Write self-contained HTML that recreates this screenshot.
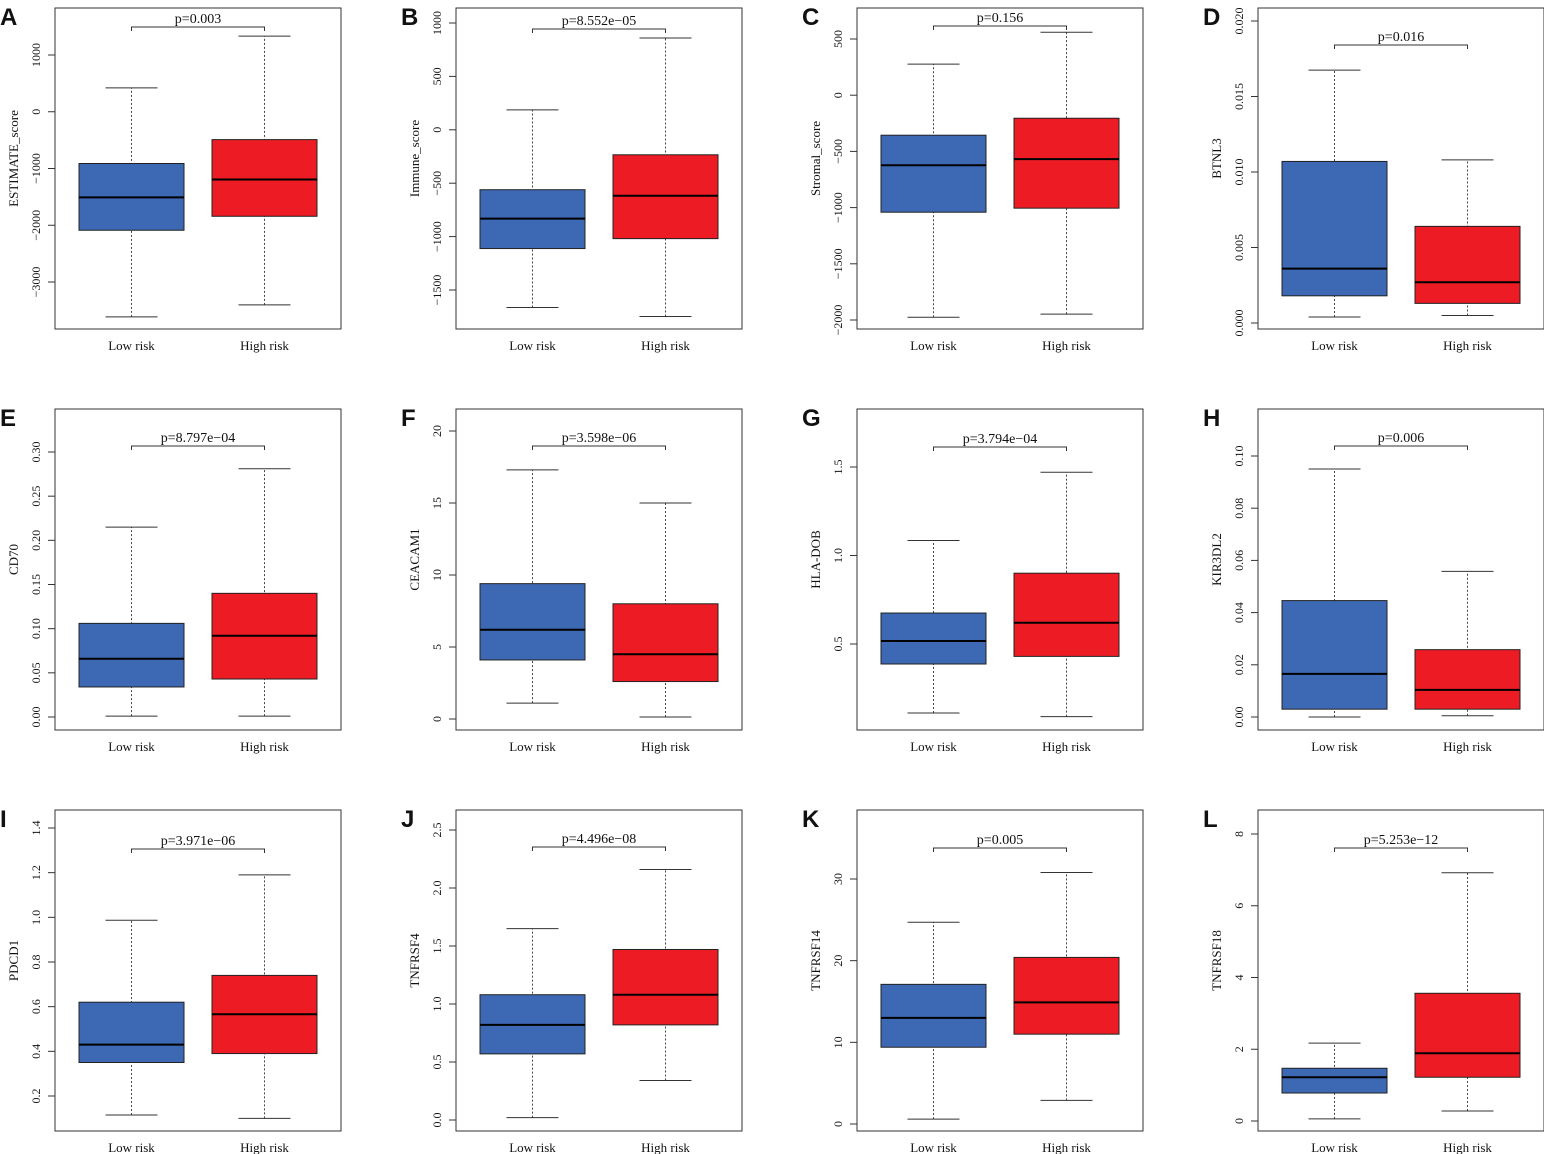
<!DOCTYPE html>
<html><head><meta charset="utf-8">
<style>
html,body{margin:0;padding:0;background:#fff;}
svg{display:block;}
text{font-family:"Liberation Serif",serif;fill:#111;}
.lbl{font-family:"Liberation Sans",sans-serif;font-weight:bold;font-size:24px;}
</style></head>
<body>
<svg id="fig" width="1544" height="1154" viewBox="0 0 1544 1154" xmlns="http://www.w3.org/2000/svg"></svg>
<script>
const letters=["A","B","C","D","E","F","G","H","I","J","K","L"];
const yTitles=["ESTIMATE_score","Immune_score","Stromal_score","BTNL3","CD70","CEACAM1","HLA-DOB","KIR3DL2","PDCD1","TNFRSF4","TNFRSF14","TNFRSF18"];
const pValues=["p=0.003","p=8.552e\u221205","p=0.156","p=0.016","p=8.797e\u221204","p=3.598e\u221206","p=3.794e\u221204","p=0.006","p=3.971e\u221206","p=4.496e\u221208","p=0.005","p=5.253e\u221212"];
const groups=["Low risk","High risk"];
// [min, q1, median, q3, max]
const lowStats=[
[-3614,-2088,-1509,-912,421],
[-1664,-1112,-832,-561,187],
[-1975,-1041,-623,-356,276],
[0.0004,0.0018,0.0036,0.0107,0.01675],
[0.001,0.034,0.066,0.106,0.215],
[1.1,4.1,6.2,9.4,17.3],
[0.11,0.387,0.517,0.675,1.085],
[0.0,0.003,0.0165,0.0446,0.095],
[0.115,0.35,0.43,0.62,0.987],
[0.02,0.57,0.82,1.08,1.65],
[0.6,9.4,13.0,17.1,24.7],
[0.06,0.78,1.22,1.47,2.17]];
const highStats=[
[-3404,-1842,-1193,-491,1333],
[-1748,-1019,-617,-234,860],
[-1948,-1005,-569,-205,560],
[0.0005,0.0013,0.0027,0.0064,0.0108],
[0.001,0.043,0.092,0.140,0.281],
[0.14,2.6,4.5,8.0,15.0],
[0.09,0.43,0.62,0.90,1.47],
[0.0005,0.003,0.0104,0.0258,0.0558],
[0.10,0.39,0.566,0.74,1.19],
[0.34,0.82,1.08,1.47,2.16],
[2.9,11.0,14.9,20.4,30.8],
[0.28,1.22,1.89,3.56,6.92]];
const yTicks=[
[-3000,-2000,-1000,0,1000],
[-1500,-1000,-500,0,500,1000],
[-2000,-1500,-1000,-500,0,500],
[0.000,0.005,0.010,0.015,0.020],
[0.00,0.05,0.10,0.15,0.20,0.25,0.30],
[0,5,10,15,20],
[0.5,1.0,1.5],
[0.00,0.02,0.04,0.06,0.08,0.10],
[0.2,0.4,0.6,0.8,1.0,1.2,1.4],
[0.0,0.5,1.0,1.5,2.0,2.5],
[0,10,20,30],
[0,2,4,6,8]];
const tickLabels=[
["\u22123000","\u22122000","\u22121000","0","1000"],
["\u22121500","\u22121000","\u2212500","0","500","1000"],
["\u22122000","\u22121500","\u22121000","\u2212500","0","500"],
["0.000","0.005","0.010","0.015","0.020"],
["0.00","0.05","0.10","0.15","0.20","0.25","0.30"],
["0","5","10","15","20"],
["0.5","1.0","1.5"],
["0.00","0.02","0.04","0.06","0.08","0.10"],
["0.2","0.4","0.6","0.8","1.0","1.2","1.4"],
["0.0","0.5","1.0","1.5","2.0","2.5"],
["0","10","20","30"],
["0","2","4","6","8"]];
// pixel anchors (layout): y of first and last tick
const tickPix=[[282,55],[290,23],[320,39],[323,21],[717,452],[719,431],[644,467],[717,456],[1096,828],[1120,830],[1124,879],[1121,834]];
const bracketY=[27,29,26,45,446,446,447,446,849,847,848,848];
const colLeft=[55,456,857,1258];
const rowTop=[8,409,810];
const BW=286,BH=321;
const NS="http://www.w3.org/2000/svg";
const svg=document.getElementById("fig");
function mk(tag,attrs,parent,txt){const e=document.createElementNS(NS,tag);for(const k in attrs)e.setAttribute(k,attrs[k]);if(txt!==undefined)e.textContent=txt;(parent||svg).appendChild(e);return e;}
for(let i=0;i<12;i++){
  const bx=colLeft[i%4], by=rowTop[Math.floor(i/4)];
  const g=mk("g",{});
  
  
  const t=yTicks[i], tp=tickPix[i];
  const v0=t[0], v1=t[t.length-1];
  const y=v=>tp[0]+(v-v0)*(tp[1]-tp[0])/(v1-v0);
  const L=mk("text",{x:bx-55,y:by+17,class:"lbl"},g,letters[i]);
  
  
  const frame=mk("rect",{x:bx,y:by,width:BW,height:BH,fill:"none",stroke:"#333","stroke-width":1},g);
  
  
  const ax=mk("g",{},g);
  
  
  mk("line",{x1:bx,x2:bx,y1:y(v0),y2:y(v1),stroke:"#333"},ax);
  t.forEach((v,k)=>{
    const yy=y(v);
    mk("line",{x1:bx-7,x2:bx,y1:yy,y2:yy,stroke:"#333"},ax);
    mk("text",{x:bx-15,y:yy,"font-size":12,"text-anchor":"middle",transform:`rotate(-90 ${bx-15} ${yy})`},ax,tickLabels[i][k]);
  });
  const cy=by+BH/2-10;
  const yt=mk("text",{x:bx-37,y:cy,"font-size":13,"text-anchor":"middle",transform:`rotate(-90 ${bx-37} ${cy})`},g,yTitles[i]);
  
  
  [lowStats[i],highStats[i]].forEach((s,gi)=>{
    const x0=bx+(gi===0?24:157), w=105, xc=x0+w/2;
    const bg=mk("g",{},g);
    
    
    mk("line",{x1:xc,x2:xc,y1:y(s[0]),y2:y(s[4]),stroke:"#444","stroke-dasharray":"2,2"},bg);
    mk("line",{x1:xc-26,x2:xc+26,y1:y(s[0]),y2:y(s[0]),stroke:"#333"},bg);
    mk("line",{x1:xc-26,x2:xc+26,y1:y(s[4]),y2:y(s[4]),stroke:"#333"},bg);
    mk("rect",{x:x0,y:y(s[3]),width:w,height:y(s[1])-y(s[3]),fill:gi===0?"#3d68b3":"#ed1c24",stroke:"#222","stroke-width":1},bg);
    mk("line",{x1:x0,x2:x0+w,y1:y(s[2]),y2:y(s[2]),stroke:"#000","stroke-width":2},bg);
    const xl=mk("text",{x:xc,y:by+BH+21,"font-size":13,"text-anchor":"middle"},g,groups[gi]);
    
    
  });
  const c1=bx+76.5,c2=bx+209.5,yb=bracketY[i];
  const br=mk("path",{d:`M${c1} ${yb+4}V${yb}H${c2}V${yb+4}`,fill:"none",stroke:"#333"},g);
  
  
  const pt=mk("text",{x:(c1+c2)/2,y:yb-4,"font-size":14,"text-anchor":"middle"},g,pValues[i]);
  
  
}
</script>
</body></html>
